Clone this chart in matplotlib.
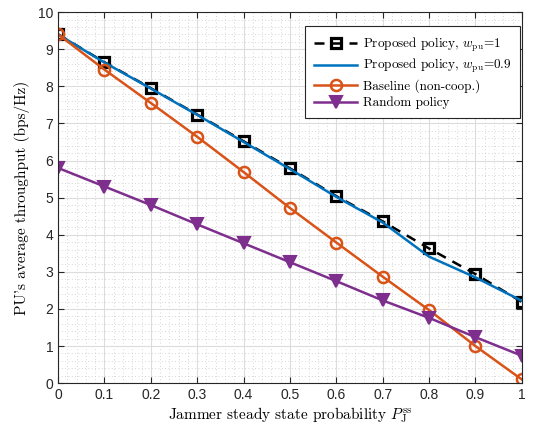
import numpy as np
import matplotlib
matplotlib.use("Agg")
import matplotlib.pyplot as plt
from matplotlib.ticker import MultipleLocator

plt.rcParams["mathtext.fontset"] = "cm"
plt.rcParams["axes.unicode_minus"] = False

# jammer steady state probability
p_ss = [0.0, 0.1, 0.2, 0.3, 0.4, 0.5, 0.6, 0.7, 0.8, 0.9, 1.0]

# PU's average throughput (bps/Hz)
proposed_w1 = [9.4, 8.65, 7.95, 7.24, 6.52, 5.79, 5.04, 4.36, 3.63, 2.94, 2.19]
proposed_w09 = [9.4, 8.64, 7.94, 7.23, 6.5, 5.77, 5.02, 4.33, 3.41, 2.85, 2.22]
baseline = [9.4, 8.45, 7.55, 6.64, 5.69, 4.72, 3.79, 2.87, 1.97, 1.0, 0.1]
random_policy = [5.8, 5.3, 4.8, 4.28, 3.77, 3.26, 2.75, 2.23, 1.76, 1.24, 0.74]

c_blue = "#0072BD"
c_orange = "#D95319"
c_purple = "#7E2F8E"
serif = ["cmr10", "DejaVu Serif"]

fig = plt.figure(figsize=(5.33, 4.32), dpi=100)
ax = fig.add_axes([0.109, 0.113, 0.870, 0.859])

ax.plot(p_ss, proposed_w1, color="black", ls=(0, (4, 3)), lw=1.8,
        marker="s", ms=6.5, mfc="none", mew=2.3,
        label=r"Proposed policy, $w_{\rm pu}$=1")
ax.plot(p_ss, proposed_w09, color=c_blue, lw=1.8,
        label=r"Proposed policy, $w_{\rm pu}$=0.9")
ax.plot(p_ss, baseline, color=c_orange, lw=1.8,
        marker="o", ms=8, mfc="none", mew=1.8,
        label="Baseline (non-coop.)")
ax.plot(p_ss, random_policy, color=c_purple, lw=1.8,
        marker="v", ms=8, mfc=c_purple, mew=1.5,
        label="Random policy")

ax.set_xlim(0, 1)
ax.set_ylim(0, 10)
ax.xaxis.set_major_locator(MultipleLocator(0.1))
ax.xaxis.set_minor_locator(MultipleLocator(0.02))
ax.yaxis.set_major_locator(MultipleLocator(1))
ax.yaxis.set_minor_locator(MultipleLocator(0.2))
ax.xaxis.set_major_formatter(plt.FuncFormatter(lambda v, _: f"{v:g}"))

ax.grid(which="major", color="#dcdcdc", lw=0.8, ls="-")
ax.grid(which="minor", color="#c8c8c8", lw=0.6, ls=(0, (1, 3)))
ax.set_axisbelow(True)

ax.tick_params(which="both", direction="in", top=True, right=True,
               color="#262626", labelsize=10, labelcolor="#262626")
ax.tick_params(which="major", length=4)
ax.tick_params(which="minor", length=0)
for lab in ax.get_xticklabels() + ax.get_yticklabels():
    lab.set_family("Liberation Sans")
for s in ax.spines.values():
    s.set_color("#262626")
    s.set_linewidth(0.8)

ax.set_xlabel(r"Jammer steady state probability $P_{\rm J}^{\rm ss}$",
              family=serif, fontsize=11, labelpad=2)
ax.set_ylabel("PU's average throughput (bps/Hz)", family=serif,
              fontsize=11, labelpad=6)

leg = ax.legend(loc="upper right", prop={"family": serif, "size": 9.5},
                fancybox=False, edgecolor="#262626", framealpha=1,
                handlelength=3.3, handletextpad=0.4, borderpad=0.7,
                labelspacing=0.28, borderaxespad=0,
                bbox_to_anchor=(0.997, 0.962))
leg.get_frame().set_linewidth(0.8)

fig.savefig("out.png", dpi=100)
